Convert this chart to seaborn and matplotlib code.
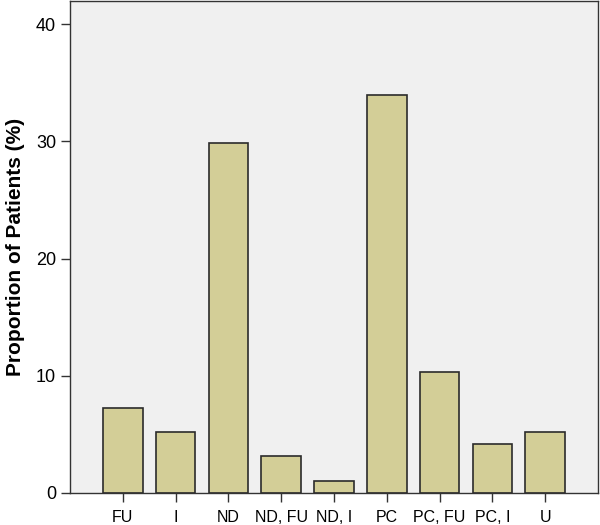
import matplotlib
matplotlib.use("Agg")
import matplotlib.pyplot as plt
import seaborn as sns
import pandas as pd

categories = ["FU", "I", "ND", "ND, FU", "ND, I", "PC", "PC, FU", "PC, I", "U"]
proportions = [7.2, 5.15, 29.9, 3.1, 1.03, 34.0, 10.3, 4.12, 5.15]
y_ticks = [0, 10, 20, 30, 40]

sns.set_theme(style="white")
plt.rcParams['font.family'] = ['Liberation Sans', 'DejaVu Sans']

df = pd.DataFrame({"cat": categories, "val": proportions})

fig = plt.figure(figsize=(6, 5.25), dpi=100)
ax = fig.add_axes([70/600, 1 - 492.7/525, 528/600, 491.7/525])
ax.set_facecolor("#f0f0f0")

sns.barplot(data=df, x="cat", y="val", order=categories, color="#d3ce97",
            saturation=1, edgecolor="#2b2b2b", linewidth=1.2, width=0.75, ax=ax)

ax.set_xlim(-1, 9)
ax.set_ylim(0, 42)
ax.set_yticks(y_ticks)
ax.set_xlabel("")
ax.set_ylabel("Proportion of Patients (%)", fontsize=15, fontweight="bold",
              labelpad=8, color="black")
ax.tick_params(axis="both", which="both", direction="out", length=6.5, width=1,
               color="#333333", labelcolor="black",
               bottom=True, left=True, top=False, right=False)
ax.tick_params(axis="y", labelsize=13, pad=3.5)
ax.tick_params(axis="x", labelsize=11.5, pad=6)
for s in ax.spines.values():
    s.set_color("#333333")
    s.set_linewidth(1)
    s.set_visible(True)

fig.savefig("out.png", dpi=100)
